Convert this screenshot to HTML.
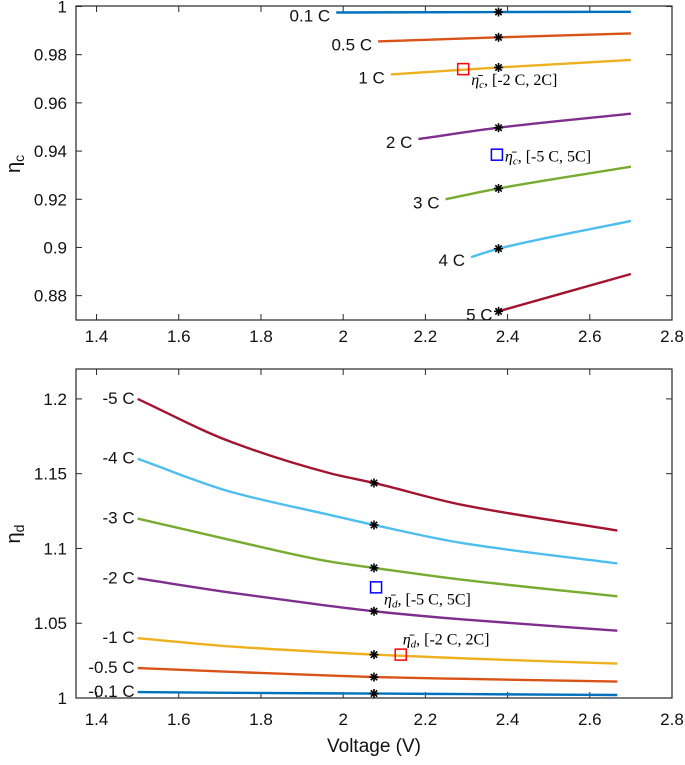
<!DOCTYPE html>
<html><head><meta charset="utf-8"><style>
body{margin:0;background:#fff;}
svg text{font-family:"Liberation Sans",Arial,sans-serif;}
.ann{font-family:"Liberation Serif",serif;font-size:16px;}
</style></head><body>
<svg id="chart" width="685" height="760" xmlns="http://www.w3.org/2000/svg"></svg>
<script>
const xTicks=[1.4,1.6,1.8,2,2.2,2.4,2.6,2.8];
const xTickLabels=["1.4","1.6","1.8","2","2.2","2.4","2.6","2.8"];
const topYTicks=[0.88,0.9,0.92,0.94,0.96,0.98,1];
const topYTickLabels=["0.88","0.9","0.92","0.94","0.96","0.98","1"];
const botYTicks=[1,1.05,1.1,1.15,1.2];
const botYTickLabels=["1","1.05","1.1","1.15","1.2"];
const colors=["#0072BD","#D95319","#EDB120","#7E2F8E","#77AC30","#4DBEEE","#A2142F"];
const topLabels=["0.1 C","0.5 C","1 C","2 C","3 C","4 C","5 C"];
const topXs=[[1.983,2.378,2.70],[2.085,2.378,2.70],[2.116,2.378,2.70],[2.183,2.378,2.70],[2.249,2.378,2.70],[2.311,2.378,2.70],[2.378,2.378,2.70]];
const topYs=[[0.9975,0.9977,0.9978],[0.9855,0.9872,0.9888],[0.9718,0.9747,0.9778],[0.945,0.9497,0.9555],[0.920,0.9245,0.9335],[0.896,0.8995,0.911],[0.8735,0.8735,0.889]];
const topStarX=2.378;
const botLabels=["-0.1 C","-0.5 C","-1 C","-2 C","-3 C","-4 C","-5 C"];
const botX=[1.5,1.725,1.968,2.075,2.292,2.667];
const botYs=[[1.004,1.0035,1.0031,1.003,1.0026,1.002],[1.02,1.0175,1.015,1.014,1.0128,1.011],[1.04,1.0345,1.0305,1.029,1.0265,1.023],[1.08,1.0705,1.0615,1.058,1.0525,1.045],[1.12,1.1057,1.0912,1.087,1.079,1.068],[1.16,1.138,1.1224,1.1157,1.1035,1.09],[1.2,1.1715,1.1503,1.1438,1.129,1.112]];
const botStarIdx=3;
const svg=document.getElementById('chart');
const NS="http://www.w3.org/2000/svg";
function mk(t,a,p){const e=document.createElementNS(NS,t);for(const k in a)e.setAttribute(k,a[k]);(p||svg).appendChild(e);return e;}
const L=76,R=672;
function sx(v){return L+(v-1.35)/(2.8-1.35)*(R-L);}
function makeAxes(name,top,bot,y0,y1,yt,ytl,sub,xoff){
  const sy=v=>bot-(v-y0)/(y1-y0)*(bot-top);
  const g=mk('g',{});
  
  
  const box=mk('rect',{x:L,y:top,width:R-L,height:bot-top,fill:'none',stroke:'#262626','stroke-width':1.2},g);
  
  
  xTicks.forEach((v,i)=>{const x=sx(v);
    mk('line',{x1:x,y1:bot,x2:x,y2:bot-6,stroke:'#262626'},g);
    mk('line',{x1:x,y1:top,x2:x,y2:top+6,stroke:'#262626'},g);
    const t=mk('text',{x:x,y:bot+xoff,'text-anchor':'middle','font-size':17,fill:'#111'},g);t.textContent=xTickLabels[i];
    
    });
  yt.forEach((v,i)=>{const y=sy(v);
    mk('line',{x1:L,y1:y,x2:L+6,y2:y,stroke:'#262626'},g);
    mk('line',{x1:R,y1:y,x2:R-6,y2:y,stroke:'#262626'},g);
    const t=mk('text',{x:L-9,y:y+6,'text-anchor':'end','font-size':17,fill:'#111'},g);t.textContent=ytl[i];
    
    });
  const yl=mk('text',{x:0,y:0,'font-size':20,fill:'#111',transform:`translate(20,${(top+bot)/2+10}) rotate(-90)`},g);
  yl.innerHTML=`η<tspan font-size="14" dy="4">${sub}</tspan>`;
  
  
  return sy;
}
function star(x,y){const g=mk('g',{stroke:'#000','stroke-width':1.6});
  
  
  for(let a=0;a<180;a+=45){const r=a*Math.PI/180;mk('line',{x1:x-4.5*Math.cos(r),y1:y-4.5*Math.sin(r),x2:x+4.5*Math.cos(r),y2:y+4.5*Math.sin(r)},g);}}
function sq(x,y,c,name){const r=mk('rect',{x:x-5.5,y:y-5.5,width:11,height:11,fill:'none',stroke:c,'stroke-width':1.5});
  
  }
// monotone cubic (Fritsch-Carlson) interpolation through data points, in pixel space
function curve(pts){
  pts=pts.filter((p,j,a)=>j==0||p[0]>a[j-1][0]+0.01);
  const n=pts.length;
  if(n<2)return '';
  const d=[],m=[];
  for(let i=0;i<n-1;i++)d.push((pts[i+1][1]-pts[i][1])/(pts[i+1][0]-pts[i][0]));
  m[0]=d[0];m[n-1]=d[n-2];
  for(let i=1;i<n-1;i++)m[i]=(d[i-1]*d[i]<=0)?0:2/(1/d[i-1]+1/d[i]);
  let s=`M${pts[0][0]},${pts[0][1]}`;
  for(let i=0;i<n-1;i++){const h=pts[i+1][0]-pts[i][0];
    s+=` C${pts[i][0]+h/3},${pts[i][1]+m[i]*h/3} ${pts[i+1][0]-h/3},${pts[i+1][1]-m[i+1]*h/3} ${pts[i+1][0]},${pts[i+1][1]}`;}
  return s;}
const syT=makeAxes('charge-axes',6,320,0.8699,1.0002,topYTicks,topYTickLabels,'c',22);
topXs.forEach((xs,i)=>{
  const pts=xs.map((x,j)=>[sx(x),syT(topYs[i][j])]);
  const p=mk('path',{d:curve(pts),fill:'none',stroke:colors[i],'stroke-width':2.4});
  
  
  const t=mk('text',{x:sx(xs[0])-6,y:syT(topYs[i][0])+9,'text-anchor':'end','font-size':17,fill:'#111'});t.textContent=topLabels[i];
  
  
  star(sx(topStarX),syT(topYs[i][1]));
});
sq(sx(2.292),syT(0.974),'#f00','charge-mean-2c-marker');
sq(sx(2.374),syT(0.9385),'#00f','charge-mean-5c-marker');
let a1=mk('text',{x:sx(2.292)+8,y:syT(0.974)+16,class:'ann'});a1.innerHTML='<tspan font-style="italic">η̄<tspan font-size="11" dy="3">c</tspan></tspan><tspan dy="-3">, [-2 C, 2C]</tspan>';


let a2=mk('text',{x:sx(2.374)+8,y:syT(0.9385)+7,class:'ann'});a2.innerHTML='<tspan font-style="italic">η̄<tspan font-size="11" dy="3">c</tspan></tspan><tspan dy="-3">, [-5 C, 5C]</tspan>';


const syB=makeAxes('discharge-axes',369,698,1,1.22,botYTicks,botYTickLabels,'d',27);
botYs.forEach((ys,i)=>{
  const pts=botX.map((x,j)=>[sx(x),syB(ys[j])]);
  const p=mk('path',{d:curve(pts),fill:'none',stroke:colors[i],'stroke-width':2.4});
  
  
  const t=mk('text',{x:sx(botX[0])-3,y:syB(ys[0])+5,'text-anchor':'end','font-size':17,fill:'#111'});t.textContent=botLabels[i];
  
  
  star(sx(botX[botStarIdx]),syB(ys[botStarIdx]));
});
sq(sx(2.08),syB(1.074),'#00f','discharge-mean-5c-marker');
sq(sx(2.14),syB(1.029),'#f00','discharge-mean-2c-marker');
let a3=mk('text',{x:sx(2.08)+8,y:syB(1.074)+17,class:'ann'});a3.innerHTML='<tspan font-style="italic">η̄<tspan font-size="11" dy="3">d</tspan></tspan><tspan dy="-3">, [-5 C, 5C]</tspan>';


let a4=mk('text',{x:sx(2.14)+2,y:syB(1.029)-10,class:'ann'});a4.innerHTML='<tspan font-style="italic">η̄<tspan font-size="11" dy="3">d</tspan></tspan><tspan dy="-3">, [-2 C, 2C]</tspan>';


const xl=mk('text',{x:(L+R)/2,y:752,'text-anchor':'middle','font-size':19,fill:'#111'});xl.textContent='Voltage (V)';


</script>
</body></html>
